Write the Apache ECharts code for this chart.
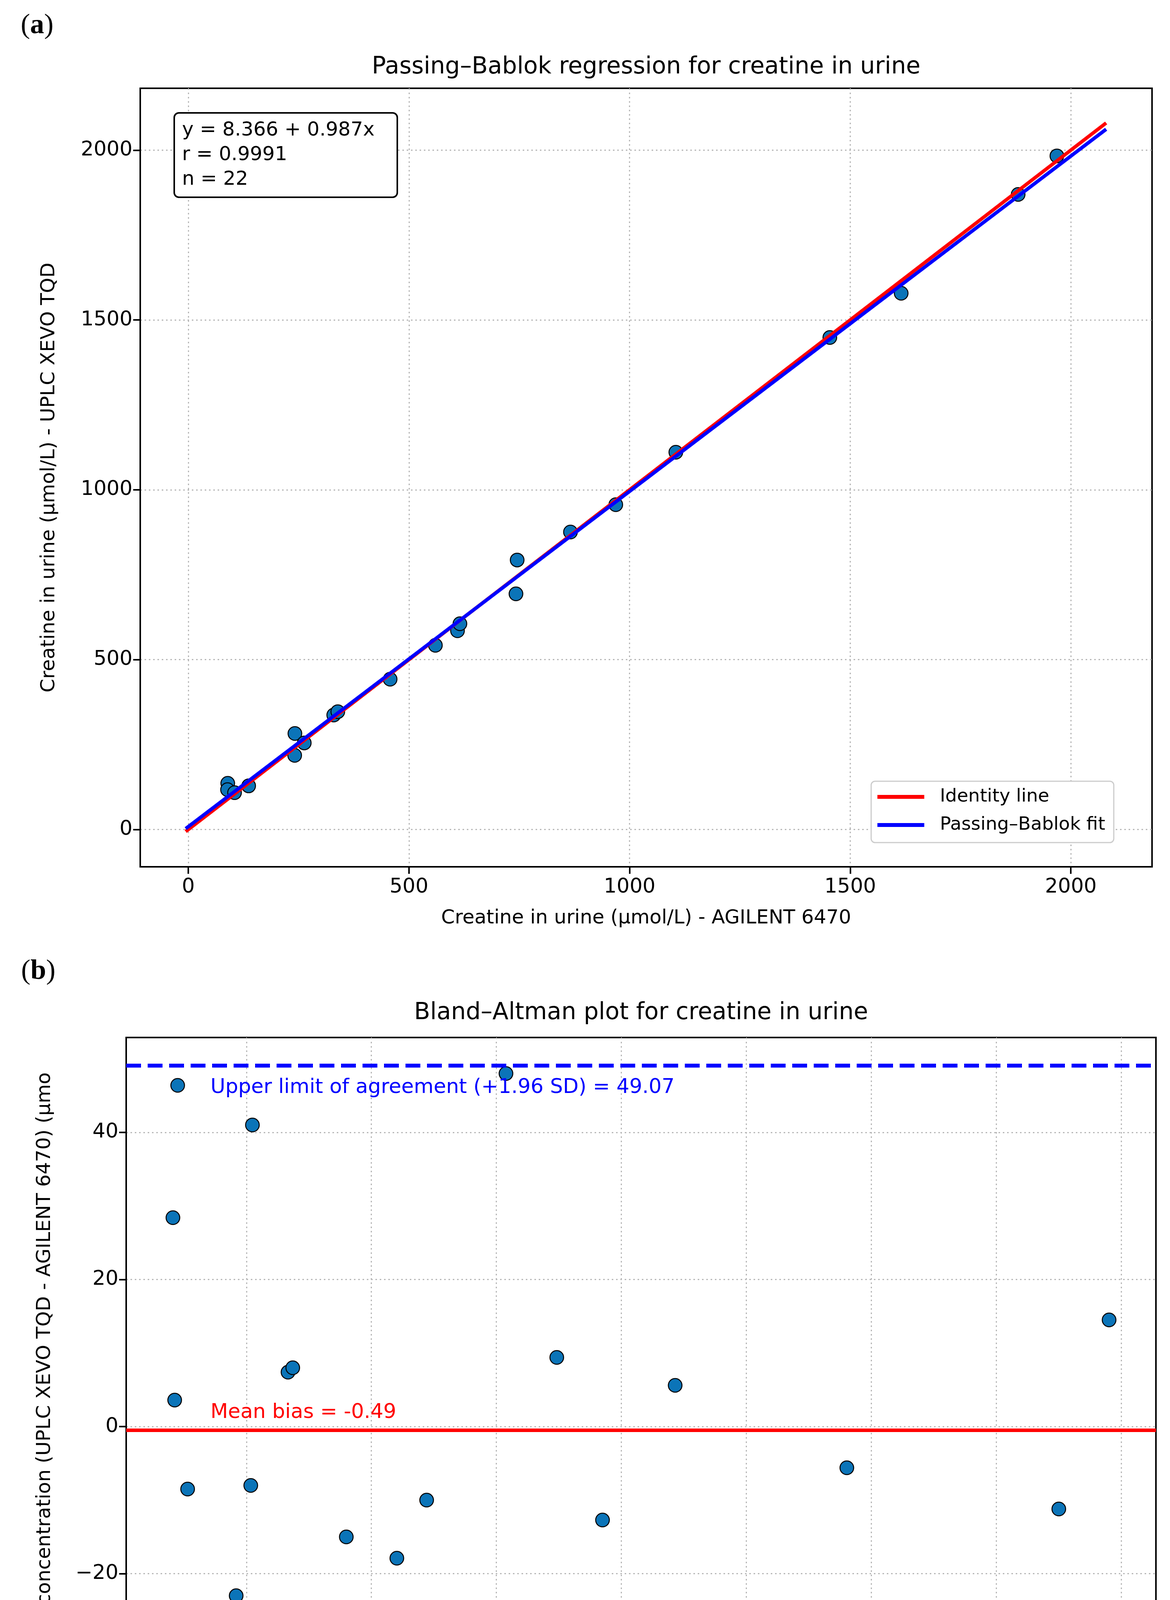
<!DOCTYPE html>
<html>
<head>
<meta charset="utf-8">
<script src="https://cdn.jsdelivr.net/npm/echarts@6/dist/echarts.min.js"></script>
<style>
  html, body { margin: 0; padding: 0; background: #fff; }
  #chart { width: 2995px; height: 4904px; }
</style>
</head>
<body>
<div id="chart"></div>
<script>
// (a) Passing-Bablok: AGILENT 6470 vs UPLC XEVO TQD
var agilent = [89.3, 88.8, 104.7, 136.7, 241.5, 241, 262.7, 329.5, 338.7, 457.3, 559.9,
               610, 615.5, 745.2, 742.5, 866, 968.7, 1104.8, 1453.8, 1615.5, 1880.6, 1968.4];
var uplc = [135.7, 117.2, 108.3, 128.2, 282.5, 218, 254.7, 336.9, 346.7, 442.3, 542,
            585, 605.5, 793.2, 693.5, 875.5, 956, 1110.4, 1448.2, 1578.5, 1869.4, 1982.9];
var lineRange = [-6, 2080];
var pbIntercept = 8.366;
var pbSlope = 0.987;
var pbR = 0.9991;
var nSamples = 22;

// (b) Bland-Altman: mean vs difference
var meanConc = [112.5, 103, 106.5, 132.4, 262, 229.5, 258.7, 333.2, 342.7, 449.8, 550.9,
                597.6, 610.5, 769.2, 718, 870.8, 962.3, 1107.6, 1451, 1597, 1875, 1975.6];
var diffConc = [46.4, 28.4, 3.6, -8.5, 41.0, -23.0, -8.0, 7.4, 8.0, -15.0, -17.9,
                -25.0, -10.0, 48.0, -49.0, 9.4, -12.7, 5.6, -5.6, -37.0, -11.2, 14.5];
var meanBias = -0.49;
var upperLoA = 49.07;
var lowerLoA = -50.04;

// tick labels
var ticksA = [0, 500, 1000, 1500, 2000];
var ticksBx = [250, 500, 750, 1000, 1250, 1500, 1750, 2000];
var ticksBy = [-40, -20, 0, 20, 40];

var FONT = 'DejaVu Sans';
var dotColor = '#0b74b8';

var dom = document.getElementById('chart');
var myChart = echarts.init(dom, null, { renderer: 'canvas' });

function minus(v) {
    return String(v).replace('-', '\u2212');
}

function valueAxis(grid, min, max, ticks, opts) {
    var ax = {
        type: 'value',
        gridIndex: grid,
        min: min,
        max: max,
        axisLine: { show: true, onZero: false, lineStyle: { color: '#000', width: 4 } },
        axisTick: { show: true, customValues: ticks, length: 18, lineStyle: { color: '#000', width: 4 } },
        axisLabel: {
            customValues: ticks, fontSize: 52, fontFamily: FONT, color: '#000',
            formatter: minus, margin: opts.margin
        },
        splitLine: { show: true, lineStyle: { color: '#b8b8b8', width: 3, type: [4, 7] } },
        name: opts.name || '',
        nameLocation: 'middle',
        nameGap: opts.nameGap || 0,
        nameMoveOverlap: false,
        nameTextStyle: { fontSize: 50, fontFamily: FONT, color: '#000' }
    };
    return ax;
}

var scatterA = agilent.map(function (x, i) { return [x, uplc[i]]; });
var scatterB = meanConc.map(function (m, i) { return [m, diffConc[i]]; });
var identityData = lineRange.map(function (x) { return [x, x]; });
var pbData = lineRange.map(function (x) { return [x, pbIntercept + pbSlope * x]; });

var option = {
    animation: false,
    backgroundColor: '#fff',
    grid: [
        { left: 359, top: 226, width: 2590, height: 1993, show: true, borderColor: '#000', borderWidth: 4,
          backgroundColor: '#fff', containLabel: false, outerBoundsMode: 'none' },
        { left: 323, top: 2656, width: 2636, height: 2010, show: true, borderColor: '#000', borderWidth: 4,
          backgroundColor: '#fff', containLabel: false, outerBoundsMode: 'none' }
    ],
    xAxis: [
        valueAxis(0, -109, 2184, ticksA, { margin: 26, name: 'Creatine in urine (\u00b5mol/L) - AGILENT 6470', nameGap: 107 }),
        valueAxis(1, 9.5, 2069.3, ticksBx, { margin: 26, name: 'Mean urinary creatine concentration (\u00b5mol/L)', nameGap: 103 })
    ],
    yAxis: [
        valueAxis(0, -110, 2182, ticksA, { margin: 20, name: 'Creatine in urine (\u00b5mol/L) - UPLC XEVO TQD', nameGap: 208 }),
        valueAxis(1, -53.85, 52.9, ticksBy, { margin: 20 })
    ],
    legend: {
        data: [{ name: 'Identity line', icon: 'rect' }, { name: 'Passing\u2013Bablok fit', icon: 'rect' }],
        orient: 'vertical',
        left: 2230,
        top: 2000,
        itemWidth: 120,
        itemHeight: 10,
        itemGap: 16,
        padding: [12, 22, 17, 16],
        backgroundColor: '#fff',
        borderColor: '#cccccc',
        borderWidth: 3,
        borderRadius: 10,
        selectedMode: false,
        textStyle: { fontSize: 47, fontFamily: FONT, color: '#000', lineHeight: 56, padding: [0, 0, 0, 35] }
    },
    series: [
        {
            name: 'Samples A',
            type: 'scatter',
            xAxisIndex: 0, yAxisIndex: 0,
            data: scatterA,
            symbolSize: 35,
            z: 2,
            itemStyle: { color: dotColor, borderColor: '#000', borderWidth: 2.5, opacity: 1 }
        },
        {
            name: 'Identity line',
            type: 'line',
            xAxisIndex: 0, yAxisIndex: 0,
            data: identityData,
            symbol: 'none',
            z: 3,
            color: '#ff0000',
            lineStyle: { color: '#ff0000', width: 9 }
        },
        {
            name: 'Passing\u2013Bablok fit',
            type: 'line',
            xAxisIndex: 0, yAxisIndex: 0,
            data: pbData,
            symbol: 'none',
            z: 4,
            color: '#0000ff',
            lineStyle: { color: '#0000ff', width: 9 }
        },
        {
            name: 'Samples B',
            type: 'scatter',
            xAxisIndex: 1, yAxisIndex: 1,
            data: scatterB,
            symbolSize: 35,
            z: 2,
            itemStyle: { color: dotColor, borderColor: '#000', borderWidth: 2.5, opacity: 1 },
            markLine: {
                silent: true,
                symbol: 'none',
                label: { show: false },
                z: 5,
                data: [
                    { yAxis: meanBias, lineStyle: { color: '#ff0000', width: 9, type: 'solid' } },
                    { yAxis: upperLoA, lineStyle: { color: '#0000ff', width: 10, type: [38, 17] } },
                    { yAxis: lowerLoA, lineStyle: { color: '#0000ff', width: 10, type: [38, 17] } }
                ]
            }
        }
    ]
};

myChart.setOption(option);

// annotations anchored on the Bland-Altman axes
function px(pt) {
    return myChart.convertToPixel({ gridIndex: 1 }, pt);
}
var pUp = px([178, 46.07]);
var pMean = px([178, 1.91]);
var pLow = px([178, -46.7]);
var pN = px([2025, -47.9]);

function txt(x, y, s, color, size, align, extra) {
    var t = {
        type: 'text',
        x: x, y: y,
        z: 10,
        style: {
            text: s, fill: color, fontSize: size, fontFamily: FONT,
            align: align || 'left', verticalAlign: 'middle'
        }
    };
    if (extra) { for (var k in extra) t[k] = extra[k]; }
    return t;
}

function panelLabel(x, y, letter) {
    return {
        type: 'text', x: x, y: y, z: 10,
        style: {
            text: '({b|' + letter + '})',
            fontFamily: 'Liberation Serif', fontSize: 72, fill: '#000',
            verticalAlign: 'middle',
            rich: { b: { fontFamily: 'Liberation Serif', fontSize: 72, fontWeight: 'bold', fill: '#000' } }
        }
    };
}

myChart.setOption({
    graphic: [
        panelLabel(53, 66, 'a'),
        panelLabel(54, 2487, 'b'),
        txt(1654, 172, 'Passing\u2013Bablok regression for creatine in urine', '#000', 60, 'center'),
        txt(1641, 2593, 'Bland\u2013Altman plot for creatine in urine', '#000', 60, 'center'),
        {
            type: 'rect', z: 10,
            shape: { x: 446, y: 289, width: 571, height: 216, r: 12 },
            style: { fill: '#fff', stroke: '#000', lineWidth: 4 }
        },
        {
            type: 'text', x: 466, y: 303, z: 11,
            style: {
                text: 'y = ' + pbIntercept.toFixed(3) + ' + ' + pbSlope.toFixed(3) + 'x\nr = ' + pbR.toFixed(4) + '\nn = ' + nSamples,
                fontSize: 50, fontFamily: FONT, fill: '#000', lineHeight: 63, verticalAlign: 'top'
            }
        },
        txt(pUp[0], pUp[1], 'Upper limit of agreement (+1.96 SD) = ' + upperLoA.toFixed(2), '#0000ff', 52),
        txt(pMean[0], pMean[1], 'Mean bias = ' + meanBias.toFixed(2), '#ff0000', 52),
        txt(pLow[0], pLow[1], 'Lower limit of agreement (-1.96 SD) = ' + lowerLoA.toFixed(2), '#0000ff', 52),
        txt(pN[0], pN[1], 'n = ' + nSamples, '#000', 52, 'right'),
        txt(115, 4858, 'Difference in urinary creatine concentration (UPLC XEVO TQD - AGILENT 6470) (\u00b5mo',
            '#000', 50, 'left', { rotation: Math.PI / 2 })
    ]
});

window.addEventListener('resize', function () {
    myChart.resize();
});
</script>
</body>
</html>
